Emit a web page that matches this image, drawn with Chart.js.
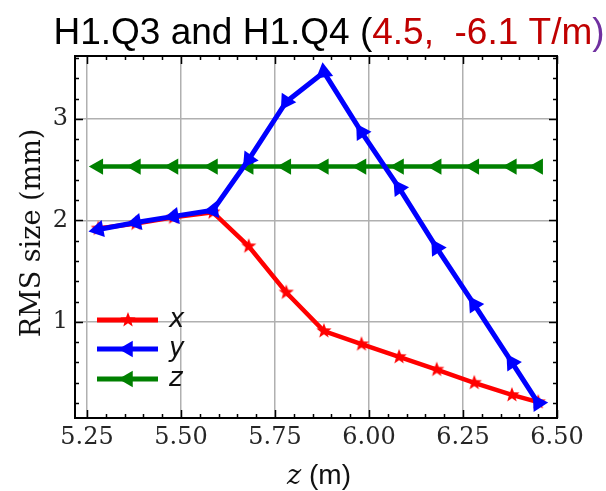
<!DOCTYPE html>
<html>
<head>
<meta charset="utf-8">
<script src="https://cdn.jsdelivr.net/npm/chart.js@4.4.1/dist/chart.umd.min.js"></script>
<style>
  body { margin: 0; background: #fff; }
  #wrap { width: 606px; height: 491px; }
</style>
</head>
<body>
<div id="wrap"><canvas id="rmsChart" width="606" height="491"></canvas></div>
<script>
// RMS beam size along z, H1.Q3 / H1.Q4 settings
const zPos = [5.28, 5.38, 5.48, 5.585, 5.68, 5.78, 5.88, 5.98, 6.08, 6.18, 6.28, 6.38, 6.45];
const rmsX = [1.92, 1.97, 2.03, 2.08, 1.745, 1.29, 0.91, 0.78, 0.655, 0.53, 0.40, 0.28, 0.21];
const rmsY = [1.91, 1.98, 2.04, 2.10, 2.60, 3.17, 3.46, 2.87, 2.32, 1.73, 1.17, 0.60, 0.20];
const rmsZ = [2.53, 2.53, 2.53, 2.53, 2.53, 2.53, 2.53, 2.53, 2.53, 2.53, 2.53, 2.53, 2.53];
const xTicks = [5.25, 5.50, 5.75, 6.00, 6.25, 6.50];
const yTicks = [1, 2, 3];
const seriesNames = ['x', 'y', 'z'];
const seriesColors = ['#ff0000', '#0000ff', '#008000'];

const tickFont = { family: 'DejaVu Serif', size: 24 };

function drawStar(g, cx, cy, r, color) {
  g.beginPath();
  for (let k = 0; k < 10; k++) {
    const rr = k % 2 ? r * 0.42 : r;
    const ang = -Math.PI / 2 + k * Math.PI / 5;
    g.lineTo(cx + rr * Math.cos(ang), cy + rr * Math.sin(ang));
  }
  g.closePath();
  g.fillStyle = color;
  g.fill();
}

function starCanvas(r, color) {
  const c = document.createElement('canvas');
  c.width = c.height = Math.ceil(2 * r + 2);
  drawStar(c.getContext('2d'), c.width / 2, c.height / 2, r, color);
  return c;
}

function drawTriangle(g, cx, cy, r, rotDeg, color) {
  let rad = rotDeg * Math.PI / 180;
  g.beginPath();
  for (let k = 0; k < 3; k++) {
    g.lineTo(cx + Math.sin(rad) * r, cy - Math.cos(rad) * r);
    rad += 2 * Math.PI / 3;
  }
  g.closePath();
  g.fillStyle = color;
  g.fill();
}

// triangles point back along the line, towards the previous point
function backRotation(ctx) {
  if (ctx.type !== 'data') return 0;
  const i = ctx.dataIndex;
  const pts = ctx.dataset.data;
  const sx = ctx.chart.scales.x, sy = ctx.chart.scales.y;
  const pix = p => [sx.getPixelForValue(p.x), sy.getPixelForValue(p.y)];
  let dx, dy;
  if (i === 0) {
    const a = pix(pts[0]), b = pix(pts[1]);
    dx = a[0] - b[0]; dy = a[1] - b[1];
  } else {
    const a = pix(pts[i]), b = pix(pts[i - 1]);
    dx = b[0] - a[0]; dy = b[1] - a[1];
  }
  return Math.atan2(dx, -dy) * 180 / Math.PI;
}

const toPoints = vals => zPos.map((z, i) => ({ x: z, y: vals[i] }));

const decorations = {
  id: 'decorations',
  afterDatasetsDraw(chart) {
    const { ctx, chartArea: a, scales: { x, y } } = chart;
    ctx.save();
    ctx.strokeStyle = '#000';
    ctx.lineWidth = 1.5;
    ctx.beginPath();
    // inward ticks on all four sides
    for (let v = 5.25; v <= 6.5001; v += 0.05) {
      const px = Math.round(x.getPixelForValue(v)) + 0.5;
      const major = xTicks.some(t => Math.abs(t - v) < 1e-6);
      const len = major ? 8 : 4;
      ctx.moveTo(px, a.bottom); ctx.lineTo(px, a.bottom - len);
      ctx.moveTo(px, a.top); ctx.lineTo(px, a.top + len);
    }
    for (let v = 0.2; v <= 3.6001; v += 0.2) {
      const py = Math.round(y.getPixelForValue(v)) + 0.5;
      const major = yTicks.some(t => Math.abs(t - v) < 1e-6);
      const len = major ? 8 : 4;
      ctx.moveTo(a.left, py); ctx.lineTo(a.left + len, py);
      ctx.moveTo(a.right, py); ctx.lineTo(a.right - len, py);
    }
    ctx.stroke();
    ctx.lineWidth = 2;
    ctx.strokeRect(a.left, a.top, a.right - a.left, a.bottom - a.top);

    // legend, lower left inside the axes
    const lx0 = a.left + 22, lx1 = a.left + 83, mx = a.left + 53;
    const rows = [320, 349, 379];
    ctx.lineWidth = 5;
    ctx.textBaseline = 'middle';
    ctx.font = 'italic 26px "DejaVu Sans"';
    rows.forEach((ry, k) => {
      ctx.strokeStyle = seriesColors[k];
      ctx.beginPath(); ctx.moveTo(lx0, ry); ctx.lineTo(lx1, ry); ctx.stroke();
      if (k === 0) drawStar(ctx, mx, ry, 8, seriesColors[k]);
      else drawTriangle(ctx, mx, ry, 9.5, -90, seriesColors[k]);
      ctx.fillStyle = '#111';
      ctx.fillText(seriesNames[k], a.left + 94, ry);
    });
    ctx.restore();
  },
  afterDraw(chart) {
    const { ctx } = chart;
    ctx.save();
    // title with coloured gradient values
    const parts = [
      ['H1.Q3 and H1.Q4 (', '#000'],
      ['4.5,  -6.1 T/m', '#c00000'],
      [')', '#7030a0']
    ];
    ctx.font = '37px "Liberation Sans"';
    ctx.textBaseline = 'alphabetic';
    const total = parts.reduce((s, p) => s + ctx.measureText(p[0]).width, 0);
    let tx = 329 - total / 2;
    parts.forEach(([t, c]) => {
      ctx.fillStyle = c;
      ctx.fillText(t, tx, 44);
      tx += ctx.measureText(t).width;
    });

    // y axis title
    ctx.save();
    ctx.translate(33, 233);
    ctx.rotate(-Math.PI / 2);
    ctx.font = '27px "DejaVu Serif"';
    ctx.textAlign = 'center';
    ctx.textBaseline = 'middle';
    ctx.fillStyle = '#111';
    ctx.fillText('RMS size (mm)', 0, 0);
    ctx.restore();

    // x axis title: italic z followed by unit
    ctx.fillStyle = '#111';
    ctx.font = 'italic 27px "DejaVu Serif"';
    const zw = ctx.measureText('z').width;
    ctx.font = '28px "Liberation Sans"';
    const uw = ctx.measureText(' (m)').width;
    let xx = 319 - (zw + uw) / 2;
    ctx.font = 'italic 27px "DejaVu Serif"';
    ctx.fillText('z', xx, 484);
    ctx.font = '28px "Liberation Sans"';
    ctx.fillText(' (m)', xx + zw, 484);
    ctx.restore();
  }
};

const ctx = document.getElementById('rmsChart').getContext('2d');
const chart = new Chart(ctx, {
  type: 'line',
  data: {
    datasets: [
      {
        label: 'x',
        data: toPoints(rmsX),
        borderColor: seriesColors[0],
        borderWidth: 4.5,
        pointStyle: starCanvas(8, seriesColors[0]),
        order: 1
      },
      {
        label: 'y',
        data: toPoints(rmsY),
        borderColor: seriesColors[1],
        backgroundColor: seriesColors[1],
        borderWidth: 5,
        pointStyle: 'triangle',
        pointRadius: 10,
        pointBorderWidth: 0,
        pointBackgroundColor: seriesColors[1],
        pointRotation: backRotation,
        order: 0
      },
      {
        label: 'z',
        data: toPoints(rmsZ),
        borderColor: seriesColors[2],
        backgroundColor: seriesColors[2],
        borderWidth: 4.5,
        pointStyle: 'triangle',
        pointRadius: 9.5,
        pointBorderWidth: 0,
        pointBackgroundColor: seriesColors[2],
        pointRotation: backRotation,
        order: 2
      }
    ]
  },
  options: {
    responsive: false,
    animation: false,
    layout: { padding: { top: 56, right: 49, left: 0, bottom: 0 } },
    plugins: {
      legend: { display: false },
      title: { display: false },
      tooltip: { enabled: false }
    },
    elements: { line: { tension: 0 } },
    scales: {
      x: {
        type: 'linear',
        min: 5.218,
        max: 6.50,
        afterBuildTicks: s => { s.ticks = xTicks.map(v => ({ value: v })); },
        afterFit: s => { s.height = 73; },
        grid: { color: '#b0b0b0', lineWidth: 1.5, drawTicks: false },
        border: { display: false },
        ticks: {
          font: tickFont,
          color: '#262626',
          padding: 5,
          maxRotation: 0,
          autoSkip: false,
          callback: v => v.toFixed(2)
        }
      },
      y: {
        type: 'linear',
        min: 0.053,
        max: 3.62,
        afterBuildTicks: s => { s.ticks = yTicks.map(v => ({ value: v })); },
        afterFit: s => { s.width = 75; },
        grid: { color: '#b0b0b0', lineWidth: 1.5, drawTicks: false },
        border: { display: false },
        ticks: {
          font: tickFont,
          color: '#262626',
          padding: 7,
          callback: v => String(v)
        }
      }
    }
  },
  plugins: [decorations]
});
</script>
</body>
</html>
